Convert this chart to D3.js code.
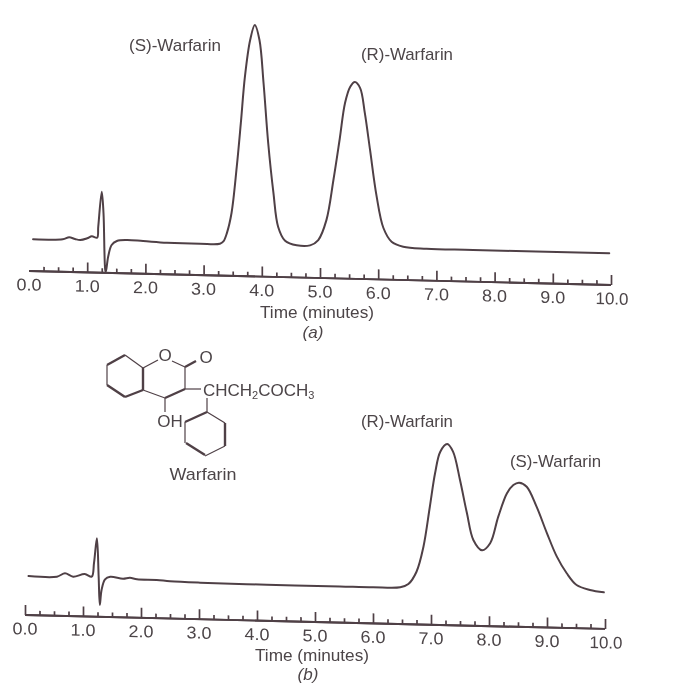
<!DOCTYPE html>
<html><head><meta charset="utf-8">
<script src="https://cdn.jsdelivr.net/npm/d3@7/dist/d3.min.js"></script>
<style>html,body{margin:0;padding:0;background:#fff}svg{display:block;filter:blur(.35px)}
text{font-family:"Liberation Sans",Arial,sans-serif;fill:#4c4548}</style>
</head><body><svg id="c" width="684" height="689"></svg>
<script>
const timeA=[.07,.58,.69,.79,.88,1.0,1.08,1.17,1.19,1.25,1.28,1.31,1.32,1.36,1.42,1.51,1.68,1.96,2.37,2.94,3.28,3.34,3.40,3.48,3.57,3.64,3.71,3.80,3.88,3.96,4.03,4.11,4.20,4.28,4.40,4.60,4.83,4.97,5.11,5.23,5.34,5.43,5.52,5.60,5.69,5.77,5.86,5.97,6.09,6.23,6.43,6.83,7.63,9.97];
const signalA=[31.8,32.5,34.7,33.1,32.2,34.1,36.2,34.9,46,81,59.8,2.8,1.1,16.2,28,32.1,33.3,32.7,31.6,31.4,31.9,34.2,42.7,62.9,109.3,153.1,199.5,236.3,251.4,236.5,193.6,133.7,83.9,50.3,36.4,32.1,32.4,37.9,58,98,140,175.6,192,196.8,190.9,166.1,129.2,84,51.5,38,33.3,31.8,31.7,31.6];
const timeB=[.06,.55,.69,.83,1.03,1.15,1.19,1.24,1.27,1.29,1.32,1.38,1.47,1.69,1.81,1.93,2.27,2.50,3.02,4.17,5.43,6.0,6.47,6.61,6.75,6.87,6.98,7.07,7.16,7.28,7.38,7.5,7.62,7.73,7.88,8.02,8.16,8.31,8.42,8.52,8.65,8.82,9.0,9.17,9.34,9.51,9.74,9.98];
const signalB=[39.1,39.1,42.7,39.5,42.4,39.9,53.7,78.4,40.1,11.8,26.8,37.6,40.3,38.7,39.8,38.4,38.2,37.2,36.5,36.1,36.1,36.1,36.7,40.2,52.7,77.9,118,151.5,173.3,181.1,173.6,145.4,112.3,85.8,75.7,82.9,109.7,133.3,141.7,144.2,140.3,120.6,94.2,71.1,54.7,43.2,38.6,36.6];
const tickLabels=["0.0","1.0","2.0","3.0","4.0","5.0","6.0","7.0","8.0","9.0","10.0"];
const axisTitle="Time (minutes)";
const ink="#4f4046";
const svg=d3.select("#c");

function panel(times,signals,opt){
  const x=d3.scaleLinear().domain([0,10]).range([0,opt.w]);
  const y=d3.scaleLinear().domain([0,300]).range([0,-300]);
  const g=svg.append("g").attr("transform",`matrix(1,0.024,0,1,${opt.x0},${opt.y0})`);
  const pts=times.map((t,i)=>[t,signals[i]]);
  g.append("path").datum(pts).attr("fill","none").attr("stroke",ink).attr("stroke-width",2)
    .attr("stroke-linejoin","round").attr("stroke-linecap","round")
    .attr("d",d3.line().x(d=>x(d[0])).y(d=>y(d[1])).curve(d3.curveCatmullRom.alpha(.5)));
  const minor=d3.range(0,10.01,.25).filter(v=>Math.abs(v-Math.round(v))>.01);
  const major=d3.range(opt.firstMajor,11);
  const ax=g.append("g");
  ax.call(d3.axisTop(x).tickValues(minor).tickSize(4.5).tickFormat(""));
  ax.append("g").call(d3.axisTop(x).tickValues(major).tickSize(10).tickFormat(""));
  ax.selectAll("path").attr("stroke",ink).attr("stroke-width",1.9).attr("d",`M0,0H${opt.w}`);
  ax.selectAll("line").attr("stroke",ink).attr("stroke-width",1.7);
  g.append("g").selectAll("text").data(tickLabels).join("text")
    .attr("x",(d,i)=>x(i)+(i==10?1:0)).attr("y",19.5).attr("text-anchor","middle")
    .attr("font-size",17).attr("textLength",(d,i)=>i==10?33:25).attr("lengthAdjust","spacingAndGlyphs").text(d=>d);
}
panel(timeA,signalA,{x0:29,y0:271,w:582,firstMajor:1});
panel(timeB,signalB,{x0:25,y0:615,w:580,firstMajor:0});

function label(s,x,y,anchor,w){
  const t=svg.append("text").attr("x",x).attr("y",y).attr("text-anchor",anchor||"start").attr("font-size",17).text(s);
  if(w)t.attr("textLength",w).attr("lengthAdjust","spacingAndGlyphs");
  return t;
}
label("(S)-Warfarin",129,51,"start",92);
label("(R)-Warfarin",361,60,"start",92);
label(axisTitle,317,318,"middle",114);
label("(a)",313,338,"middle").attr("font-family","Liberation Serif").attr("font-style","italic");
label("(R)-Warfarin",361,427,"start",92);
label("(S)-Warfarin",510,467,"start",91);
label(axisTitle,312,661,"middle",114);
label("(b)",308,680,"middle").attr("font-family","Liberation Serif").attr("font-style","italic");
label("Warfarin",203,480,"middle",67);
label("O",165,361,"middle");
label("O",206,363,"middle");
label("OH",170,427,"middle");
const chem=label("",203,396,"start");
chem.append("tspan").text("CHCH");
chem.append("tspan").text("2").attr("font-size",11).attr("dy",3);
chem.append("tspan").text("COCH").attr("dy",-3);
chem.append("tspan").text("3").attr("font-size",11).attr("dy",3);

const thinBonds=[[125,355,143,368],[143,368,158,360],[172,361,185,367],[185,367,185,389],[201,389,185,389],[165,398,143,390],[165,398,165,412],[107,385,107,365],[207,398,207,412],[225,446,205,456],[185,443,185,422],[207,412,225,423]];
const boldBonds=[[107,365,125,355],[107,385,125,397],[125,397,143,390],[143,368,143,390],[165,398,185,389],[185,367,196,361],[185,422,207,412],[225,423,225,446],[186,443,205,455]];
svg.append("g").selectAll("line").data(thinBonds).join("line")
  .attr("x1",d=>d[0]).attr("y1",d=>d[1]).attr("x2",d=>d[2]).attr("y2",d=>d[3]).attr("stroke",ink).attr("stroke-width",1.2);
svg.append("g").selectAll("line").data(boldBonds).join("line")
  .attr("x1",d=>d[0]).attr("y1",d=>d[1]).attr("x2",d=>d[2]).attr("y2",d=>d[3]).attr("stroke",ink).attr("stroke-width",2.4);
</script></body></html>
